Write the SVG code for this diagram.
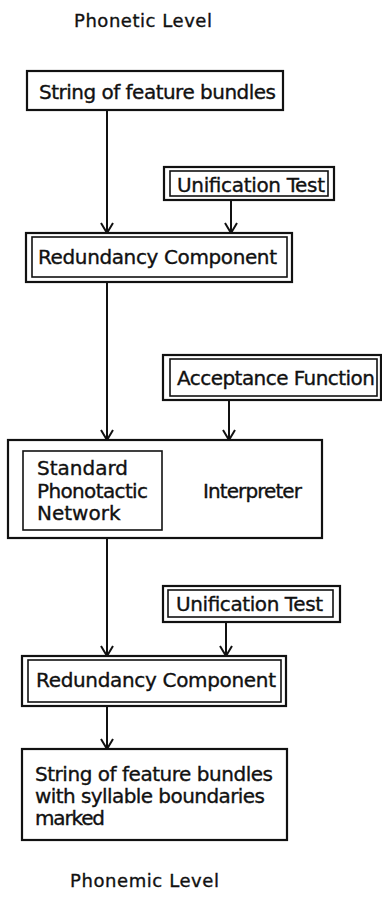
<svg xmlns="http://www.w3.org/2000/svg" width="382" height="900" viewBox="0 0 382 900">
<style>
  text { font-family: "DejaVu Sans", "Liberation Sans", sans-serif; font-size: 20px; fill: #111; stroke: #111; stroke-width: 0.35; }
  .lvl { font-size: 18px; }
  .box { fill: #fff; stroke: #111; stroke-width: 2.2; }
  .inner { fill: none; stroke: #111; stroke-width: 1.6; }
  .conn { fill: none; stroke: #111; stroke-width: 2; marker-end: url(#arr); }
</style>
<defs>
  <marker id="arr" viewBox="-1 -7 13 14" refX="11" refY="0" markerWidth="13" markerHeight="14" markerUnits="userSpaceOnUse" orient="auto">
    <path d="M1,-6 L11,0 L1,6" fill="none" stroke="#111" stroke-width="2"/>
  </marker>
</defs>
<rect width="382" height="900" fill="#fff"/>

<g id="phonetic-level">
  <text class="lvl" x="74" y="27" textLength="138" lengthAdjust="spacing">Phonetic Level</text>
</g>

<g id="connectors">
  <line class="conn" x1="107" y1="110" x2="107" y2="233"/>
  <line class="conn" x1="231" y1="200" x2="231" y2="233"/>
  <line class="conn" x1="107" y1="282" x2="107" y2="440"/>
  <line class="conn" x1="229" y1="400" x2="229" y2="440"/>
  <line class="conn" x1="107" y1="538" x2="107" y2="656"/>
  <line class="conn" x1="226" y1="622" x2="226" y2="656"/>
  <line class="conn" x1="107" y1="706" x2="107" y2="749"/>
</g>

<g id="string-input">
  <rect class="box" x="27" y="71" width="256" height="39"/>
  <text x="39" y="99" textLength="237" lengthAdjust="spacing">String of feature bundles</text>
</g>

<g id="unification-test-1">
  <rect class="box" x="164" y="167" width="170" height="33"/>
  <rect class="inner" x="170" y="171" width="158" height="25"/>
  <text x="177" y="192" textLength="148" lengthAdjust="spacing">Unification Test</text>
</g>

<g id="redundancy-component-1">
  <rect class="box" x="26" y="233" width="266" height="49"/>
  <rect class="inner" x="32" y="237" width="255" height="40"/>
  <text x="38" y="264" textLength="239" lengthAdjust="spacing">Redundancy Component</text>
</g>

<g id="acceptance-function">
  <rect class="box" x="163" y="355" width="218" height="45"/>
  <rect class="inner" x="170" y="359" width="207" height="37"/>
  <text x="177" y="385" textLength="198" lengthAdjust="spacing">Acceptance Function</text>
</g>

<g id="interpreter">
  <rect class="box" x="8" y="440" width="314" height="98"/>
  <text x="203" y="498" textLength="99" lengthAdjust="spacing">Interpreter</text>
</g>

<g id="standard-phonotactic-network">
  <rect class="inner" x="23" y="451" width="139" height="79" stroke-width="1.8"/>
  <text x="37" y="475">Standard</text>
  <text x="37" y="498" textLength="111" lengthAdjust="spacing">Phonotactic</text>
  <text x="37" y="520">Network</text>
</g>

<g id="unification-test-2">
  <rect class="box" x="163" y="586" width="177" height="36"/>
  <rect class="inner" x="168" y="590" width="165" height="27"/>
  <text x="176" y="611" textLength="147" lengthAdjust="spacing">Unification Test</text>
</g>

<g id="redundancy-component-2">
  <rect class="box" x="22" y="656" width="264" height="50"/>
  <rect class="inner" x="28" y="660" width="253" height="42"/>
  <text x="36" y="687" textLength="240" lengthAdjust="spacing">Redundancy Component</text>
</g>

<g id="string-output">
  <rect class="box" x="22" y="749" width="265" height="91"/>
  <text x="35" y="781" textLength="238" lengthAdjust="spacing">String of feature bundles</text>
  <text x="35" y="803" textLength="230" lengthAdjust="spacing">with syllable boundaries</text>
  <text x="35" y="825" textLength="70" lengthAdjust="spacing">marked</text>
</g>

<g id="phonemic-level">
  <text class="lvl" x="70" y="887" textLength="149" lengthAdjust="spacing">Phonemic Level</text>
</g>
</svg>
